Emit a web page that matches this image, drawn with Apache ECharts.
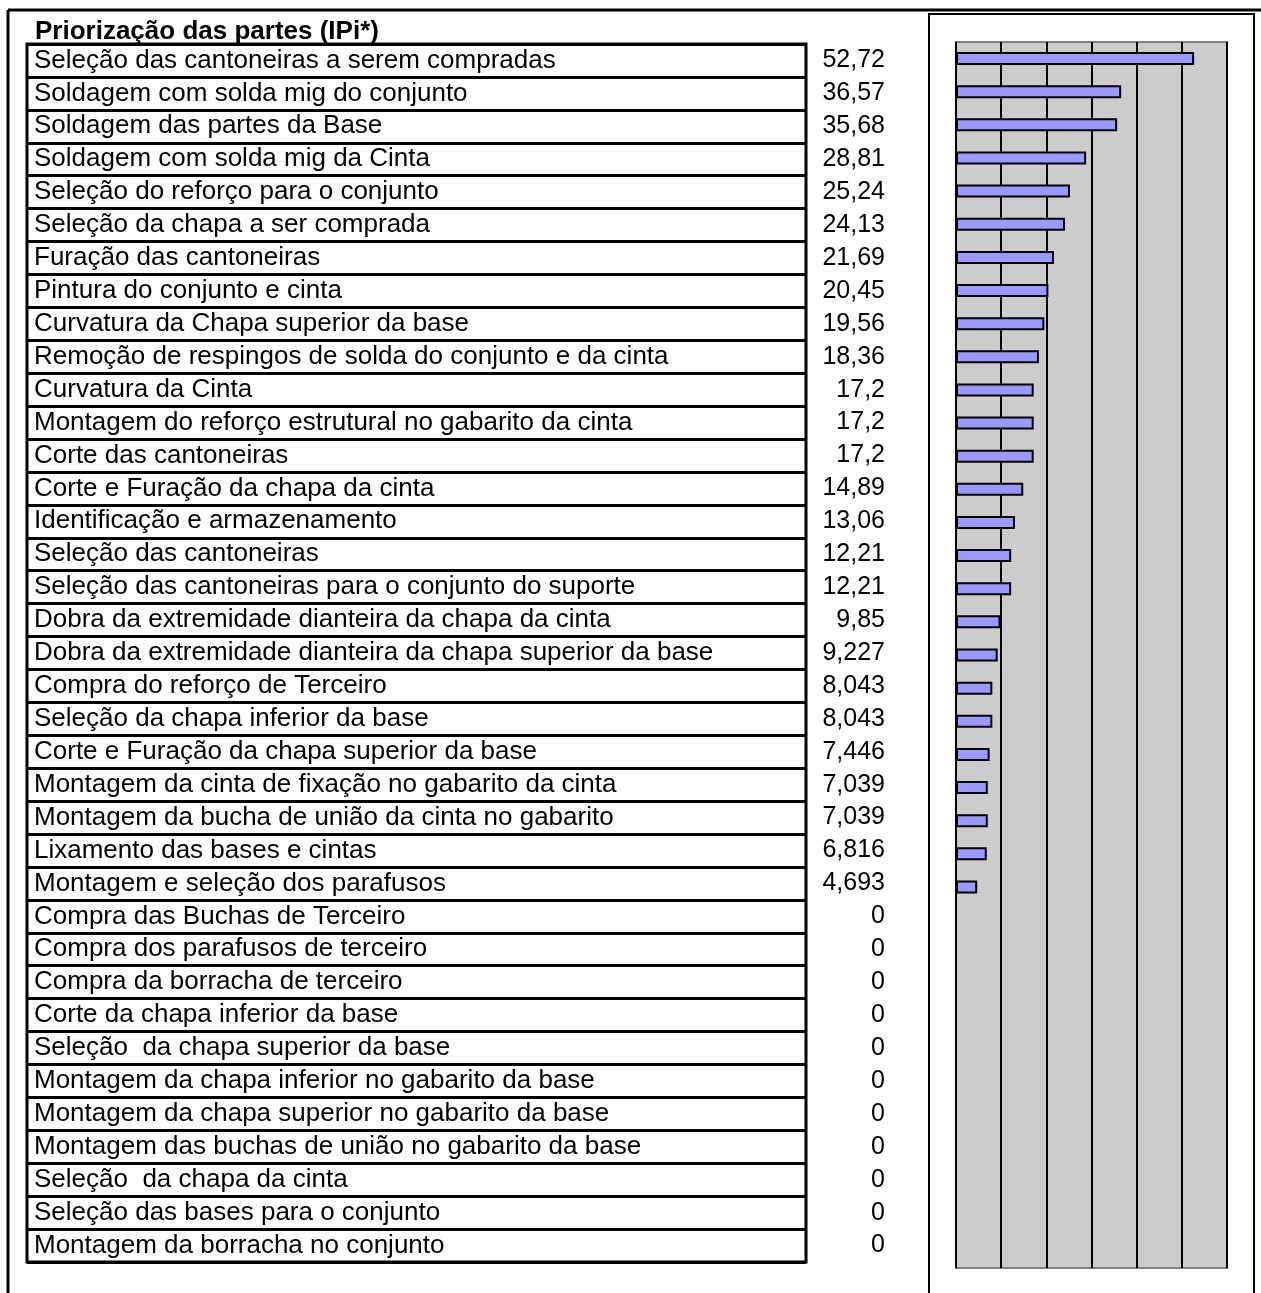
<!DOCTYPE html>
<html>
<head>
<meta charset="utf-8">
<script src="https://cdn.jsdelivr.net/npm/echarts@6/dist/echarts.min.js"></script>
<style>
  html, body { margin: 0; padding: 0; background: #fff; }
  #chart { width: 1261px; height: 1293px; }
</style>
</head>
<body>
<div id="chart"></div>
<script>
  // etapas do processo (ordem da tabela)
  var categories = [
    'Seleção das cantoneiras a serem compradas',
    'Soldagem com solda mig do conjunto',
    'Soldagem das partes da Base',
    'Soldagem com solda mig da Cinta',
    'Seleção do reforço para o conjunto',
    'Seleção da chapa a ser comprada',
    'Furação das cantoneiras',
    'Pintura do conjunto e cinta',
    'Curvatura da Chapa superior da base',
    'Remoção de respingos de solda do conjunto e da cinta',
    'Curvatura da Cinta',
    'Montagem do reforço estrutural no gabarito da cinta',
    'Corte das cantoneiras',
    'Corte e Furação da chapa da cinta',
    'Identificação e armazenamento',
    'Seleção das cantoneiras',
    'Seleção das cantoneiras para o conjunto do suporte',
    'Dobra da extremidade dianteira da chapa da cinta',
    'Dobra da extremidade dianteira da chapa superior da base',
    'Compra do reforço de Terceiro',
    'Seleção da chapa inferior da base',
    'Corte e Furação da chapa superior da base',
    'Montagem da cinta de fixação no gabarito da cinta',
    'Montagem da bucha de união da cinta no gabarito',
    'Lixamento das bases e cintas',
    'Montagem e seleção dos parafusos',
    'Compra das Buchas de Terceiro',
    'Compra dos parafusos de terceiro',
    'Compra da borracha de terceiro',
    'Corte da chapa inferior da base',
    'Seleção  da chapa superior da base',
    'Montagem da chapa inferior no gabarito da base',
    'Montagem da chapa superior no gabarito da base',
    'Montagem das buchas de união no gabarito da base',
    'Seleção  da chapa da cinta',
    'Seleção das bases para o conjunto',
    'Montagem da borracha no conjunto'
  ];
  // IPi de cada etapa
  var values = [
    52.72, 36.57, 35.68, 28.81, 25.24, 24.13, 21.69, 20.45, 19.56, 18.36,
    17.2, 17.2, 17.2, 14.89, 13.06, 12.21, 12.21, 9.85, 9.227, 8.043,
    8.043, 7.446, 7.039, 7.039, 6.816, 4.693,
    0, 0, 0, 0, 0, 0, 0, 0, 0, 0, 0
  ];
  // eixo do grafico
  var axisMin = 0;
  var axisMax = 60;
  var axisStep = 10;

  // numeros com virgula, como na planilha
  var valueLabels = values.map(function (v) {
    return String(v).replace('.', ',');
  });

  var fontFamily = '"Liberation Sans", Arial, sans-serif';
  var chart = echarts.init(document.getElementById('chart'));

  chart.setOption({
    backgroundColor: '#fff',
    animation: false,
    textStyle: { fontFamily: fontFamily },
    title: {
      text: 'Priorização das partes (IPi*)',
      left: 30,
      top: 14,
      textStyle: { fontFamily: fontFamily, fontSize: 26, fontWeight: 'bold', color: '#000' }
    },
    graphic: [
      // moldura da pagina
      { type: 'line', shape: { x1: 8, y1: 10, x2: 1261, y2: 10 }, style: { stroke: '#000', lineWidth: 3 } },
      { type: 'line', shape: { x1: 8, y1: 10, x2: 8, y2: 1293 }, style: { stroke: '#000', lineWidth: 3 } },
      // caixa do grafico
      { type: 'rect', shape: { x: 929, y: 14, width: 325, height: 1300 }, style: { fill: 'none', stroke: '#000', lineWidth: 2 } }
    ],
    grid: [
      {
        // tabela
        left: 27, top: 44, width: 779, height: 1218,
        show: true, borderColor: '#000', borderWidth: 3, backgroundColor: '#fff'
      },
      {
        // barras
        left: 956, top: 42, width: 271, height: 1226,
        show: true, borderColor: '#808080', borderWidth: 2, backgroundColor: '#cccccc'
      }
    ],
    xAxis: [
      { gridIndex: 0, type: 'value', min: 0, max: 1, show: false },
      {
        gridIndex: 1, type: 'value', min: axisMin, max: axisMax, interval: axisStep,
        axisLabel: { show: false }, axisTick: { show: false }, axisLine: { show: false },
        splitLine: { show: true, lineStyle: { color: '#000', width: 2 } }
      }
    ],
    yAxis: [
      {
        gridIndex: 0, type: 'category', data: categories, inverse: true,
        axisLine: { show: false }, axisTick: { show: false },
        splitLine: { show: true, interval: 0, lineStyle: { color: '#000', width: 3 } },
        axisLabel: {
          inside: true, interval: 0, margin: 7, color: '#000', fontSize: 26,
          fontFamily: fontFamily, padding: [0, 0, 2, 0]
        }
      },
      {
        gridIndex: 0, type: 'category', data: categories, inverse: true, position: 'right',
        axisLine: { show: false }, axisTick: { show: false }, splitLine: { show: false },
        axisLabel: {
          interval: 0, margin: 79, align: 'right', color: '#000', fontSize: 25,
          fontFamily: fontFamily, padding: [0, 0, 2, 0],
          formatter: function (val, idx) { return valueLabels[idx]; }
        }
      },
      {
        gridIndex: 1, type: 'category', data: categories, inverse: true,
        axisLine: { show: false }, axisTick: { show: false },
        axisLabel: { show: false }, splitLine: { show: false }
      }
    ],
    series: [
      {
        type: 'bar',
        xAxisIndex: 1,
        yAxisIndex: 2,
        barWidth: 13,
        silent: true,
        itemStyle: { color: '#9999ff', borderColor: '#000', borderWidth: 2 },
        data: values.map(function (v) {
          return v === 0 ? { value: v, itemStyle: { borderWidth: 0 } } : v;
        })
      }
    ]
  });
</script>
</body>
</html>
